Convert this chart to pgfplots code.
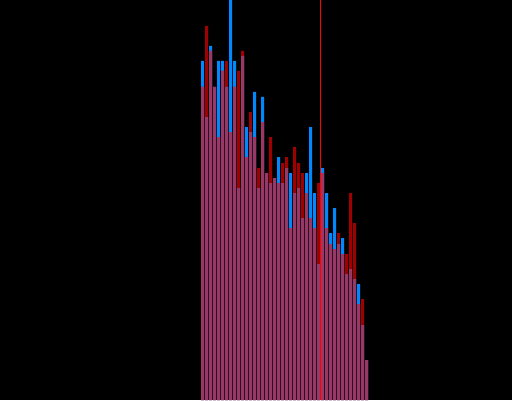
\documentclass[border=0pt]{standalone}
\usepackage{pgfplots}
\usepackage{pgfplotstable}
\pgfplotsset{compat=1.18}
\definecolor{cblue}{RGB}{0,136,255}
\definecolor{cred}{RGB}{160,0,0}
\definecolor{cboth}{RGB}{155,55,100}
\definecolor{cline}{RGB}{255,0,0}
\pgfplotstableread{
x blue red both
202.5 339 313 313
206.5 283 374 283
210.5 354 349 349
214.5 313 313 313
218.5 339 263 263
222.5 339 329 329
226.5 313 339 313
230.5 405 268 268
234.5 339 313 313
238.5 212 329 212
242.5 344 349 344
246.5 273 243 243
250.5 268 288 268
254.5 308 263 263
258.5 212 232 212
262.5 303 278 278
266.5 227 227 227
270.5 217 263 217
274.5 222 222 222
278.5 243 217 217
282.5 217 237 217
286.5 232 243 232
290.5 227 172 172
294.5 207 253 207
298.5 212 237 212
302.5 182 227 182
306.5 227 207 207
310.5 273 182 182
314.5 207 172 172
318.5 136 217 136
322.5 232 227 227
326.5 207 172 172
330.5 167 156 156
334.5 192 151 151
338.5 156 167 156
342.5 162 146 146
346.5 126 146 126
350.5 131 207 131
354.5 121 177 121
358.5 116 96 96
362.5 75 101 75
366.5 40 40 40
}\hist
\begin{document}
\begin{tikzpicture}
\begin{axis}[
  scale only axis,
  width=512pt, height=400pt,
  xmin=0, xmax=512, ymin=0, ymax=400,
  enlargelimits=false,
  axis line style={draw=none},
  ticks=none,
  axis background/.style={fill=black},
  ybar, bar width=3, /pgf/bar shift=0pt,
]
\addplot[draw=none, fill=cblue] table[x=x, y=blue] {\hist};
\addplot[draw=none, fill=cred] table[x=x, y=red] {\hist};
\addplot[draw=none, fill=cboth] table[x=x, y=both] {\hist};
\addplot[sharp plot, cline, line width=1pt] coordinates {(320.5,0) (320.5,400)};
\end{axis}
\end{tikzpicture}
\end{document}
